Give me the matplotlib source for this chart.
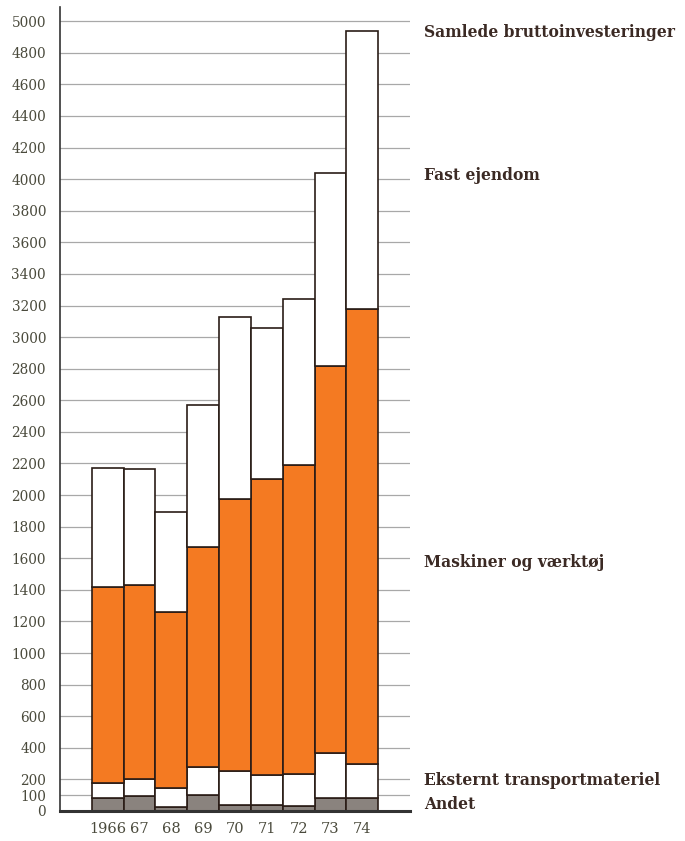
import matplotlib
matplotlib.use("Agg")
import matplotlib.pyplot as plt
import matplotlib.transforms as mtransforms
import numpy as np

years = ["1966", "67", "68", "69", "70", "71", "72", "73", "74"]
andet = [85, 95, 25, 100, 35, 35, 30, 85, 85]
eksternt = [90, 105, 120, 180, 220, 195, 205, 285, 215]
maskiner = [1240, 1230, 1115, 1390, 1720, 1875, 1955, 2450, 2880]
fast = [755, 735, 635, 900, 1155, 950, 1050, 1220, 1760]

yticks = [0, 100, 200] + list(range(400, 5001, 200))
series_labels = ["Samlede bruttoinvesteringer", "Fast ejendom",
                 "Maskiner og værktøj", "Eksternt transportmateriel", "Andet"]
label_y = [4930, 4025, 1575, 195, 40]

fig = plt.figure(figsize=(6.85, 8.41), dpi=100)
ax = fig.add_axes([60/685, 1-811/841, 350/685, 804/841])

edge = "#2a1c16"
x = np.arange(len(years))
bottom = np.zeros(len(years))
colors = ["#8a837e", "white", "#f47a22", "white"]
for vals, col in zip([andet, eksternt, maskiner, fast], colors):
    ax.bar(x, vals, width=1.0, bottom=bottom, color=col, edgecolor=edge,
           linewidth=1.2, zorder=3)
    bottom += np.array(vals)

ax.set_xlim(-1.5, 9.5)
ax.set_ylim(0, 5090)
ax.set_yticks(yticks)
ax.set_yticklabels([str(t) for t in yticks], fontfamily="DejaVu Serif",
                   fontsize=9.8, color="#4a4a3c")
ax.set_xticks(x)
ax.set_xticklabels(years, fontfamily="DejaVu Serif", fontsize=10.5, color="#4a4a3c")
ax.tick_params(axis="y", length=0, pad=10)
ax.tick_params(axis="x", length=0, pad=8)
ax.yaxis.grid(True, color="#a8a8a8", linewidth=0.9, zorder=0)
ax.set_axisbelow(True)
for s in ["top", "right"]:
    ax.spines[s].set_visible(False)
ax.spines["left"].set_color("#333")
ax.spines["left"].set_linewidth(1.2)
ax.spines["bottom"].set_color("#333")
ax.spines["bottom"].set_linewidth(2.2)
ax.spines["bottom"].set_zorder(4)

trans = mtransforms.blended_transform_factory(ax.transAxes, ax.transData)
for lab, yy in zip(series_labels, label_y):
    ax.text(1.04, yy, lab, transform=trans, ha="left", va="center",
            fontfamily="DejaVu Serif", fontweight="bold", fontsize=11.2,
            color="#3b2a24", clip_on=False)

fig.savefig("out.png", dpi=100, facecolor="white")
